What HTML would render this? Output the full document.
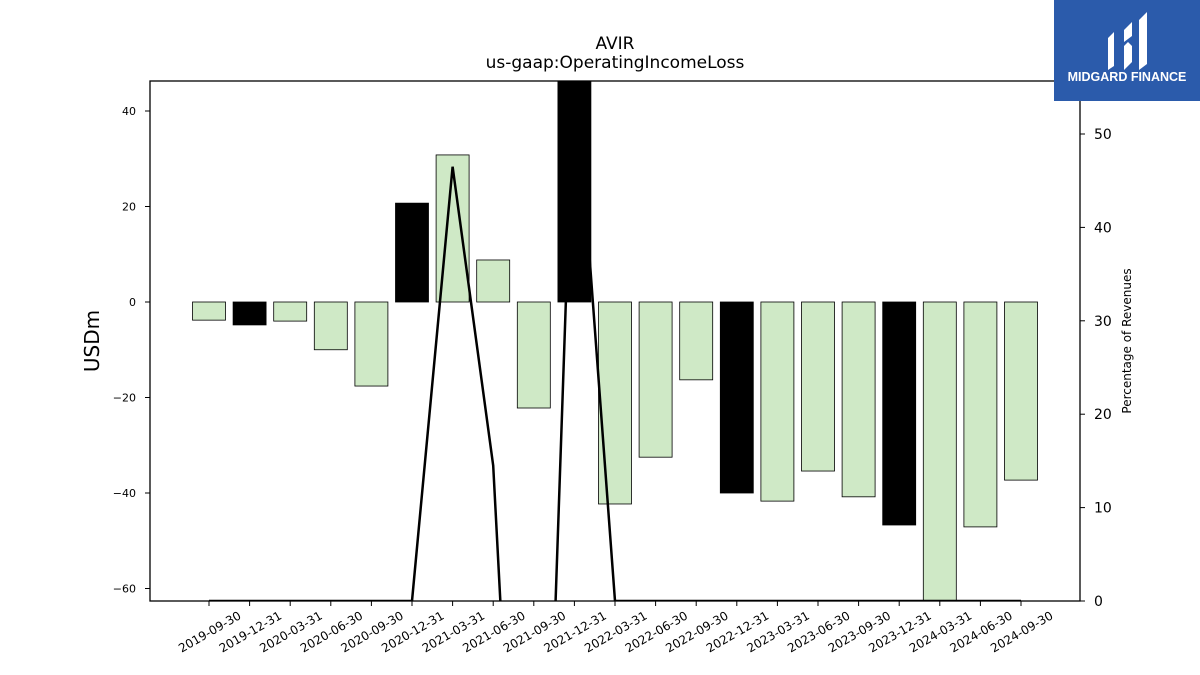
<!DOCTYPE html>
<html><head><meta charset="utf-8"><style>
html,body{margin:0;padding:0;width:1200px;height:675px;overflow:hidden;background:#fff;font-family:"Liberation Sans","DejaVu Sans",sans-serif;}
svg{display:block;}
svg text{font-family:"DejaVu Sans","Liberation Sans",sans-serif;}
</style></head><body>
<svg id="chart" width="1200" height="675" xmlns="http://www.w3.org/2000/svg">
<rect width="1200" height="675" fill="#fff"/>
<text x="615" y="49" font-size="17" text-anchor="middle">AVIR</text>
<text x="615" y="68" font-size="17" text-anchor="middle">us-gaap:OperatingIncomeLoss</text>
<defs><clipPath id="pc"><rect x="150" y="81" width="930" height="520"/></clipPath></defs>
<g id="bars" clip-path="url(#pc)"></g>
<g id="line" clip-path="url(#pc)"></g>
<rect x="150" y="81" width="930" height="520" fill="none" stroke="#000" stroke-width="1.3"/>
<g id="axes"></g>
<text x="0" y="0" font-size="20" text-anchor="middle" transform="translate(99,341) rotate(-90)">USDm</text>
<text x="0" y="0" font-size="12" text-anchor="middle" transform="translate(1131,341) rotate(-90)">Percentage of Revenues</text>
<g>
<rect x="1054" y="0" width="146" height="101" fill="#2b5bab"/>
<path d="M1108 38 L1114 32 L1114 66 L1108 70 Z M1124 30 L1132 22 L1132 36 L1124 42 Z M1124 46 L1128 42 L1132 46 L1132 62 L1124 70 Z M1139 20 L1147 12 L1147 64 L1139 70 Z" fill="#fff"/>
<text x="1127" y="81" font-size="12.5" font-weight="bold" fill="#fff" text-anchor="middle" style="font-family:'Liberation Sans',sans-serif">MIDGARD FINANCE</text>
</g>
</svg>
<script>
const categories=["2019-09-30","2019-12-31","2020-03-31","2020-06-30","2020-09-30","2020-12-31","2021-03-31","2021-06-30","2021-09-30","2021-12-31","2022-03-31","2022-06-30","2022-09-30","2022-12-31","2023-03-31","2023-06-30","2023-09-30","2023-12-31","2024-03-31","2024-06-30","2024-09-30"];
const values=[-3.8,-4.8,-4.0,-10.0,-17.6,20.7,30.8,8.8,-22.2,50,-42.3,-32.5,-16.3,-40,-41.7,-35.4,-40.8,-46.7,-65,-47.1,-37.3];
const isQ4=[0,1,0,0,0,1,0,0,0,1,0,0,0,1,0,0,0,1,0,0,0];
const pctRevenue=[0,0,0,0,0,0,46.5,14.5,-68,58.7,0,0,0,0,0,0,0,0,0,0,0];
const leftTicks=[-60,-40,-20,0,20,40];
const rightTicks=[0,10,20,30,40,50];
const NS="http://www.w3.org/2000/svg";
const xOf=i=>209+i*40.6;
const yL=v=>302-v*4.775;
const yR=v=>601-v*9.34;
function mk(t,a,p){const e=document.createElementNS(NS,t);for(const k in a)e.setAttribute(k,a[k]);p.appendChild(e);return e;}
const bars=document.getElementById('bars'),line=document.getElementById('line'),axes=document.getElementById('axes');
values.forEach((v,i)=>{
 const y0=yL(0),y1=yL(v);
 const r=mk('rect',{x:xOf(i)-16.5,y:Math.min(y0,y1),width:33,height:Math.abs(y1-y0),fill:isQ4[i]?'#000':'#cfe9c6',stroke:'#000','stroke-width':0.8},bars);
 
 
});
const pts=pctRevenue.map((v,i)=>xOf(i)+','+yR(v)).join(' ');
const pl=mk('polyline',{points:pts,fill:'none',stroke:'#000','stroke-width':2.5},line);


categories.forEach((c,i)=>{
 const x=xOf(i);
 const t=mk('line',{x1:x,x2:x,y1:601,y2:606,stroke:'#000'},axes);
 
 
 const l=mk('text',{x:0,y:0,'font-size':12,'text-anchor':'end',transform:`translate(${x+33},${618}) rotate(-30)`},axes);
 l.textContent=c;
 
 
});
leftTicks.forEach(v=>{
 const y=yL(v);
 const t=mk('line',{x1:145,x2:150,y1:y,y2:y,stroke:'#000'},axes);
 
 
 const l=mk('text',{x:136,y:y+4,'font-size':11,'text-anchor':'end'},axes);
 l.textContent=v<0?'\u2212'+Math.abs(v):String(v);
 
 
});
rightTicks.forEach(v=>{
 const y=yR(v);
 const t=mk('line',{x1:1080,x2:1085,y1:y,y2:y,stroke:'#000'},axes);
 
 
 const l=mk('text',{x:1094,y:y+5,'font-size':14},axes);
 l.textContent=String(v);
 
 
});
</script>
</body></html>
